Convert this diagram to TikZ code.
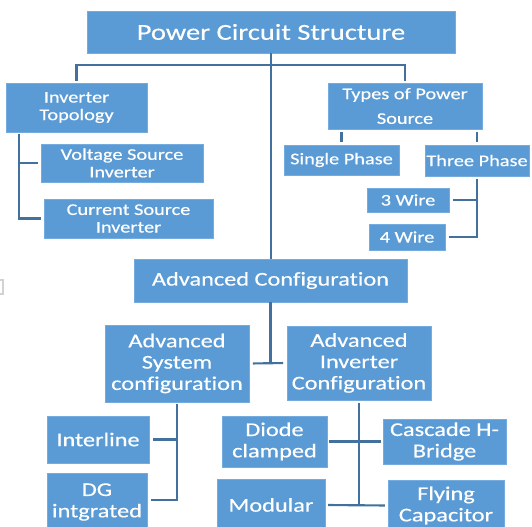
\documentclass[tikz,border=0pt]{standalone}
\usepackage{fontspec}
\setmainfont{Carlito}[FakeStretch=1.25, FakeBold=0.4, Ligatures={NoCommon}]
\definecolor{boxfill}{HTML}{5B9BD5}
\definecolor{boxedge}{HTML}{74ACE0}
\definecolor{linecol}{HTML}{41719C}
\tikzset{
  box/.style={fill=boxfill, draw=boxedge, line width=0.7pt, inner sep=0pt, text=white, align=center},
  bigtxt/.style={font=\fontsize{17.1pt}{19pt}\selectfont},
  midtxt/.style={font=\fontsize{14.6pt}{16pt}\selectfont},
  smalltxt/.style={font=\fontsize{12.2pt}{13.2pt}\selectfont},
  widetxt/.style={font=\fontsize{12.2pt}{18.5pt}\selectfont},
  conn/.style={draw=linecol, line width=1.6pt},
  gap/.style={shorten <=2pt, shorten >=2pt}
}
% #1 style, #2 name, (#3,#4) top-left, (#5,#6) bottom-right in px, #7 text
\newcommand\bxnode[7]{%
  \node[box, #1, minimum width={(#5-#3)*0.75pt}, minimum height={(#6-#4)*0.75pt}]
    (#2) at ({(#3+#5)/2},{(#4+#6)/2}) {#7};}
\begin{document}
\begin{tikzpicture}[x=0.75pt, y=-0.75pt]
\useasboundingbox (0,0) rectangle (532,527);
\fill[white] (0,0) rectangle (532,527);
% small artifact at left edge
\draw[gray!35, line width=0.8pt] (-6,280) rectangle (3,294);

% boxes
\bxnode{bigtxt}{root}{87}{11}{455}{53}{Power Circuit Structure}
\bxnode{smalltxt}{inv}{6}{83}{147}{132}{Inverter\\Topology}
\bxnode{widetxt}{types}{328}{83}{482}{129}{Types of Power\\Source}
\bxnode{smalltxt}{vsi}{41}{144}{203}{182}{Voltage Source\\Inverter}
\bxnode{smalltxt}{csi}{44}{199}{213}{238}{Current Source\\Inverter}
\bxnode{smalltxt}{single}{284}{145}{399}{175}{Single Phase}
\bxnode{smalltxt}{three}{425}{145}{529}{176}{Three Phase}
\bxnode{smalltxt}{w3}{367}{188}{449}{212}{3 Wire}
\bxnode{smalltxt}{w4}{369}{224}{445}{250}{4 Wire}
\bxnode{midtxt}{adv}{134}{259}{407}{302}{Advanced Configuration}
\bxnode{midtxt}{asys}{105}{325}{249}{402}{Advanced\\System\\configuration}
\bxnode{midtxt}{ainv}{287}{326}{431}{400}{Advanced\\Inverter\\Configuration}
\bxnode{midtxt}{inter}{47}{416}{149}{463}{Interline}
\bxnode{midtxt}{dg}{47}{473}{147}{531}{DG\\intgrated}
\bxnode{midtxt}{diode}{222}{416}{327}{467}{Diode\\clamped}
\bxnode{midtxt}{casc}{383}{419}{506}{464}{Cascade H-\\Bridge}
\bxnode{midtxt}{modu}{217}{479}{325}{531}{Modular}
\bxnode{midtxt}{fly}{388}{480}{504}{531}{Flying\\Capacitor}

% connectors
\coordinate (bar) at (271,65);
\draw[conn] (root.south) -- (root.south |- adv.north);
\draw[conn, shorten >=1.5pt] (bar) -| (inv.north);
\draw[conn, shorten >=1.5pt] (bar) -| (types.north);

\coordinate (iv) at (19,134);
\draw[conn, shorten >=2pt] (iv) |- (vsi.west);
\draw[conn, shorten >=2pt] (iv) |- (csi.west);

\draw[conn, gap] (types.south -| single.north) -- (single.north);
\draw[conn, gap] (types.south -| three.north) -- (three.north);

\draw[conn, shorten <=2pt, shorten >=3pt] (three.south) |- (w3.east);
\draw[conn, shorten <=2pt, shorten >=3pt] (three.south) |- (w4.east);

\draw[conn] (adv.south) -- (adv.south |- asys.east);
\draw[conn, shorten <=2.5pt, shorten >=2.5pt] (asys.east) -- (ainv.west);

\draw[conn, shorten <=1pt, shorten >=3pt] (asys.south) |- (inter.east);
\draw[conn, shorten <=1pt, shorten >=2.5pt] (asys.south) |- ([yshift=1.5pt]dg.east);

\draw[conn, shorten <=2pt] (ainv.south) -- (ainv.south |- modu.east);
\draw[conn, shorten <=1.5pt, shorten >=1pt] (diode.east) -- (casc.west);
\draw[conn, shorten <=2pt, shorten >=2pt] (modu.east) -- (fly.west);
\end{tikzpicture}
\end{document}
